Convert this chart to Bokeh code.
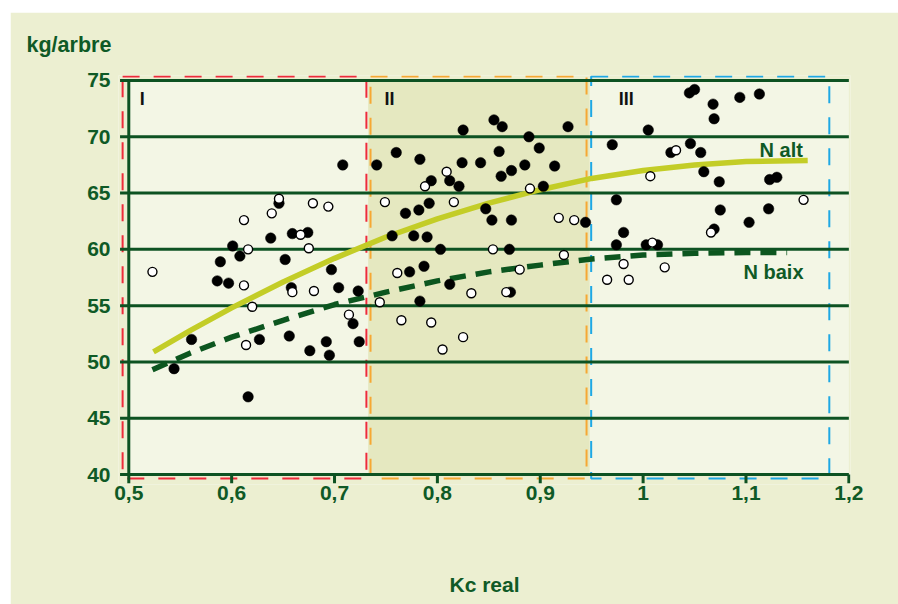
from bokeh.plotting import figure
from bokeh.models import Range1d, FixedTicker, Label
from bokeh.embed import file_html
from bokeh.resources import INLINE

# ---------------- data ----------------
x_ticks = [0.5, 0.6, 0.7, 0.8, 0.9, 1.0, 1.1, 1.2]
x_tick_labels = ["0,5", "0,6", "0,7", "0,8", "0,9", "1", "1,1", "1,2"]
y_ticks = [40, 45, 50, 55, 60, 65, 70, 75]

filled_kc = [0.544, 0.561, 0.586, 0.589, 0.597, 0.601, 0.608, 0.616, 0.627, 0.646,
             0.638, 0.652, 0.658, 0.656, 0.659, 0.674, 0.676, 0.708, 0.697, 0.704,
             0.723, 0.718, 0.724, 0.692, 0.695,
             0.741, 0.760, 0.783, 0.825, 0.824, 0.842, 0.794, 0.812, 0.821, 0.769,
             0.782, 0.792, 0.756, 0.777, 0.790, 0.803, 0.773, 0.787, 0.812, 0.783,
             0.855, 0.863, 0.927, 0.889, 0.899, 0.860, 0.885, 0.872, 0.862, 0.914,
             0.903, 0.847, 0.853, 0.872, 0.944, 0.870, 0.871,
             0.970, 0.974, 0.974, 1.005, 1.045, 1.050, 1.068, 1.069, 1.094, 1.113,
             1.046, 1.027, 1.056, 1.059, 1.074, 1.075, 1.069, 0.981, 1.003, 1.014,
             1.123, 1.130, 1.122, 1.103]
filled_kg = [49.4, 52.0, 57.2, 58.9, 57.0, 60.3, 59.4, 46.9, 52.0, 64.1,
             61.0, 59.1, 56.6, 52.3, 61.4, 61.5, 51.0, 67.5, 58.2, 56.6,
             56.3, 53.4, 51.8, 51.8, 50.6,
             67.5, 68.6, 68.0, 70.6, 67.7, 67.7, 66.1, 66.1, 65.6, 63.2,
             63.5, 64.1, 61.2, 61.2, 61.1, 60.0, 58.0, 58.5, 56.9, 55.4,
             71.5, 70.9, 70.9, 70.0, 69.0, 68.7, 67.5, 67.0, 66.5, 67.4,
             65.6, 63.6, 62.6, 62.6, 62.4, 60.0, 56.2,
             69.3, 64.4, 60.4, 70.6, 73.9, 74.2, 72.9, 71.6, 73.5, 73.8,
             69.4, 68.6, 68.6, 66.9, 66.0, 63.5, 61.8, 61.5, 60.4, 60.4,
             66.2, 66.4, 63.6, 62.4]

open_kc = [0.523, 0.612, 0.616, 0.612, 0.620, 0.614, 0.639, 0.646, 0.659, 0.667,
           0.675, 0.679, 0.680, 0.694, 0.714,
           0.809, 0.788, 0.749, 0.816, 0.761, 0.833, 0.744, 0.765, 0.794, 0.825,
           0.805, 0.890, 0.918, 0.933, 0.854, 0.923, 0.880, 0.867,
           0.965, 1.032, 1.007, 1.066, 1.009, 0.981, 1.021, 0.986, 1.156]
open_kg = [58.0, 62.6, 60.0, 56.8, 54.9, 51.5, 63.2, 64.5, 56.2, 61.3,
           60.1, 64.1, 56.3, 63.8, 54.2,
           66.9, 65.6, 64.2, 64.2, 57.9, 56.1, 55.3, 53.7, 53.5, 52.2,
           51.1, 65.4, 62.8, 62.6, 60.0, 59.5, 58.2, 56.2,
           57.3, 68.8, 66.5, 61.5, 60.6, 58.7, 58.4, 57.3, 64.4]

n_alt_kc = [0.524, 0.56, 0.60, 0.65, 0.70, 0.75, 0.80, 0.85, 0.90, 0.95, 1.00, 1.05, 1.10, 1.16]
n_alt_kg = [50.9, 52.8, 54.8, 57.1, 59.2, 61.1, 62.7, 64.1, 65.3, 66.3, 67.0, 67.5, 67.8, 67.9]
n_baix_kc = [0.523, 0.56, 0.60, 0.65, 0.70, 0.75, 0.80, 0.85, 0.90, 0.95, 1.00, 1.05, 1.10, 1.14]
n_baix_kg = [49.3, 50.8, 52.2, 53.7, 55.1, 56.2, 57.2, 58.0, 58.6, 59.15, 59.5, 59.65, 59.72, 59.72]

zone_names = ["I", "II", "III"]
zone_left = [0.494, 0.735, 0.9495]
zone_right = [0.731, 0.945, 1.181]
zone_colors = ["#ee2b3b", "#f6a833", "#1ea8e4"]
shade_left, shade_right = 0.7327, 0.948

# ---------------- styles ----------------
BG = "#ecefd1"
PLOT_BG = "#f3f6e5"
SHADE = "#e5e8c0"
DG = "#0d5222"
TXT = "#0f5a26"
FONT = "Liberation Sans"

p = figure(width=888, height=592,
           x_range=Range1d(0.49, 1.2016), y_range=Range1d(39.112, 75.444),
           output_backend="svg", toolbar_location=None,
           min_border_left=108, min_border_right=48, min_border_top=63, min_border_bottom=120)
p.margin = (12, 0, 0, 10)
p.background_fill_color = BG
p.border_fill_color = BG
p.outline_line_color = None
p.grid.visible = False

# title used as the y unit label
p.title.text = "kg/arbre"
p.title.align = "left"
p.title.offset = -92
p.title.standoff = 37
p.title.text_font = FONT
p.title.text_font_style = "bold"
p.title.text_font_size = "21.5px"
p.title.text_color = TXT

# plot area + shaded zone II
p.quad(left=x_ticks[0], right=x_ticks[-1], bottom=y_ticks[0], top=y_ticks[-1],
       fill_color=PLOT_BG, line_color=None)
p.quad(left=shade_left, right=shade_right, bottom=y_ticks[0], top=y_ticks[-1],
       fill_color=SHADE, line_color=None)

# dashed zone boxes
p.quad(left=zone_left, right=zone_right, bottom=39.64, top=75.36,
       fill_alpha=0, line_color=zone_colors, line_width=2, line_dash="17 14")

# grid lines (with their left tick marks)
tick_len_x = 0.0085
p.segment(x0=[x_ticks[0] - tick_len_x] * len(y_ticks), y0=y_ticks,
          x1=[x_ticks[-1]] * len(y_ticks), y1=y_ticks, line_color=DG, line_width=3)
# y axis line
p.segment(x0=[x_ticks[0]], y0=[y_ticks[0]], x1=[x_ticks[0]], y1=[y_ticks[-1]],
          line_color=DG, line_width=3)
# x ticks
p.segment(x0=x_ticks, y0=[y_ticks[0]] * len(x_ticks), x1=x_ticks,
          y1=[y_ticks[0] - 0.78] * len(x_ticks), line_color=DG, line_width=3)

# curves
p.line(n_alt_kc, n_alt_kg, line_color="#c3cd27", line_width=5.5)
p.line(n_baix_kc, n_baix_kg, line_color="#0c561f", line_width=5.5, line_dash="16 10")

# points
p.scatter(filled_kc, filled_kg, size=10.5, fill_color="black", line_color="black", line_width=0.5)
p.scatter(open_kc, open_kg, size=9, fill_color="white", line_color="black", line_width=1.4)

# axes
for ax in (p.xaxis[0], p.yaxis[0]):
    ax.axis_line_color = None
    ax.major_tick_line_color = None
    ax.minor_tick_line_color = None
    ax.major_tick_in = 0
    ax.major_tick_out = 0
    ax.major_label_text_font = FONT
    ax.major_label_text_font_style = "bold"
    ax.major_label_text_font_size = "21px"
    ax.major_label_text_color = TXT
p.xaxis[0].ticker = FixedTicker(ticks=x_ticks)
p.xaxis[0].major_label_overrides = dict(zip(x_ticks, x_tick_labels))
p.xaxis[0].major_label_standoff = 1
p.xaxis[0].axis_label = "Kc real"
p.xaxis[0].axis_label_text_font = FONT
p.xaxis[0].axis_label_text_font_style = "bold"
p.xaxis[0].axis_label_text_font_size = "21px"
p.xaxis[0].axis_label_text_color = TXT
p.xaxis[0].axis_label_standoff = 70
p.yaxis[0].ticker = FixedTicker(ticks=y_ticks)
p.yaxis[0].major_label_standoff = 8

def lab(x, y, text, size, color):
    p.add_layout(Label(x=x, y=y, text=text, text_font=FONT, text_font_style="bold",
                       text_font_size=size, text_color=color,
                       text_baseline="alphabetic", text_align="left"))

lab(1.1132, 68.85, "N alt", "20px", TXT)
lab(1.0976, 58.0, "N baix", "20px", TXT)
for name, xl in zip(zone_names, [0.5107, 0.7486, 0.9764]):
    lab(xl, 73.4, name, "18px", "#111111")

open("out.html", "w").write(file_html(p, INLINE))
